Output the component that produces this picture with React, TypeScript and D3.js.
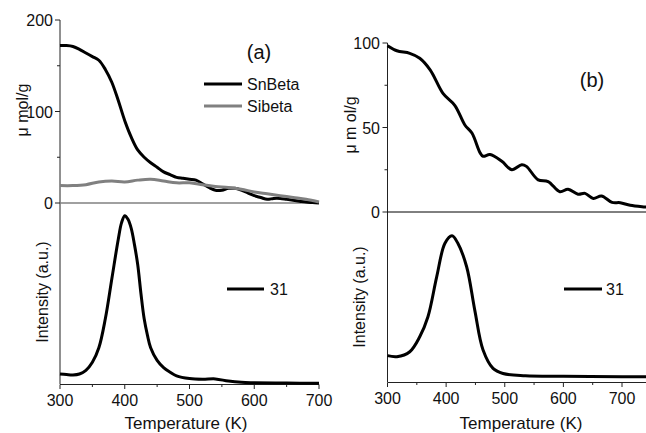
import React from "react";
import * as d3 from "d3";

// ---------- data ----------
const snBetaA: [number, number][] = [
  [300, 172], [310, 172], [320, 171], [330, 168], [340, 164], [350, 160], [360, 156],
  [370, 146], [380, 132], [390, 112], [400, 90], [410, 72], [420, 58], [430, 50],
  [440, 44], [450, 39], [460, 34], [470, 31], [480, 28], [490, 27], [500, 26],
  [510, 25], [520, 21], [530, 17], [540, 14], [550, 14], [560, 16], [570, 16],
  [580, 14], [590, 11], [600, 8], [610, 6], [620, 4], [630, 5], [640, 5], [650, 4],
  [660, 3], [670, 2], [680, 1], [690, 0.5], [700, 0],
];
const siBetaA: [number, number][] = [
  [300, 19], [320, 19], [340, 20], [360, 23], [380, 24], [400, 23], [420, 25],
  [440, 26], [460, 24], [480, 22], [500, 22], [520, 20], [540, 18], [560, 17],
  [580, 15], [600, 12], [620, 10], [640, 8], [660, 6], [680, 4], [700, 1],
];
const intensityA: [number, number][] = [
  [300, 5.5], [310, 5.2], [320, 5], [330, 5.5], [340, 7.5], [350, 12], [360, 20],
  [370, 36], [380, 58], [390, 80], [395, 89], [400, 93], [405, 91], [410, 86],
  [415, 77], [420, 66], [425, 50], [430, 36], [435, 27], [440, 20], [450, 13],
  [460, 9], [470, 6.5], [480, 4.5], [500, 3], [520, 2.6], [540, 2.8], [560, 1.6],
  [580, 0.9], [600, 0.7], [650, 0.5], [700, 0.4],
];
const curveB: [number, number][] = [
  [300, 98.4], [316, 95.4], [338, 93.9], [355, 91], [373, 84], [395, 70], [415, 63],
  [432, 51.5], [444, 46.7], [458, 35], [463, 33], [475, 34], [495, 30], [512, 25],
  [529, 28], [537, 27], [557, 19], [574, 18], [594, 12], [608, 13.5], [625, 10.5],
  [637, 11], [651, 8], [665, 9.5], [683, 5.7], [697, 5.5], [714, 4], [739, 3], [745, 2.8],
];
const intensityB: [number, number][] = [
  [300, 15.5], [316, 14.9], [338, 17.8], [355, 26.6], [369, 38.4], [384, 62],
  [398, 81.6], [410, 86], [420, 81.6], [435, 67.8], [449, 42], [463, 18.8],
  [480, 8], [497, 5], [535, 3.7], [600, 3.4], [700, 3.1], [745, 3.1],
];

const xTicksMajor = [300, 400, 500, 600, 700];
const xTicksMinor = [350, 450, 550, 650];
const yTicksA = [0, 100, 200];
const yTicksAMinor = [50, 150];
const yTicksB = [0, 50, 100];
const yTicksBMinor = [25, 75];

const FONT = "Liberation Sans, Arial, sans-serif";

export default function App() {
  const W = 646, H = 433;
  // panel a
  const xA = d3.scaleLinear().domain([300, 700]).range([60, 319]);
  const yA = d3.scaleLinear().domain([0, 200]).range([203, 20]);
  const yLA = d3.scaleLinear().domain([0, 100]).range([384, 203]);
  // panel b
  const xB = d3.scaleLinear().domain([300, 700]).range([387.5, 622]);
  const yB = d3.scaleLinear().domain([0, 100]).range([212, 43]);
  const yLB = d3.scaleLinear().domain([0, 100]).range([382, 212]);

  const mk = (x: d3.ScaleLinear<number, number>, y: d3.ScaleLinear<number, number>) =>
    d3.line<[number, number]>().x((d) => x(d[0])).y((d) => y(d[1])).curve(d3.curveCatmullRom);

  const axisCol = "#222";
  const tickText = (x: number, y: number, t: string, anchor: string) => (
    <text x={x} y={y} fontSize={16} fontFamily={FONT} textAnchor={anchor} fill="#111">{t}</text>
  );

  return (
    <svg width={W} height={H} style={{ position: "absolute", left: 0, top: 0 }} fontFamily={FONT}>
      <rect width={W} height={H} fill="#fff" />
      {/* ---------- panel a ---------- */}
      <line x1={60} x2={60} y1={20} y2={384} stroke={axisCol} strokeWidth={1} />
      <line x1={60} x2={319} y1={384.5} y2={384.5} stroke={axisCol} strokeWidth={1} />
      <line x1={60} x2={319} y1={yA(0)} y2={yA(0)} stroke="#808080" strokeWidth={1.5} />
      {yTicksA.map((t) => (
        <g key={"ya" + t}>
          <line x1={55} x2={60} y1={yA(t)} y2={yA(t)} stroke={axisCol} />
          {tickText(53, yA(t) + 6, String(t), "end")}
        </g>
      ))}
      {yTicksAMinor.map((t) => (
        <line key={"yam" + t} x1={57} x2={60} y1={yA(t)} y2={yA(t)} stroke={axisCol} />
      ))}
      {xTicksMajor.map((t) => (
        <g key={"xa" + t}>
          <line x1={xA(t)} x2={xA(t)} y1={384.5} y2={389} stroke={axisCol} />
          {tickText(xA(t), 406, String(t), "middle")}
        </g>
      ))}
      {xTicksMinor.map((t) => (
        <line key={"xam" + t} x1={xA(t)} x2={xA(t)} y1={384.5} y2={387} stroke={axisCol} />
      ))}
      <path d={mk(xA, yA)(snBetaA) || ""} fill="none" stroke="#000" strokeWidth={3} />
      <path d={mk(xA, yA)(siBetaA) || ""} fill="none" stroke="#808080" strokeWidth={3} />
      <path d={mk(xA, yLA)(intensityA) || ""} fill="none" stroke="#000" strokeWidth={3} />
      <text x={259} y={59} fontSize={20} textAnchor="middle" fill="#111">(a)</text>
      <line x1={204} x2={242} y1={84} y2={84} stroke="#000" strokeWidth={3} />
      <text x={247} y={90} fontSize={16} fill="#111">SnBeta</text>
      <line x1={204} x2={242} y1={106} y2={106} stroke="#808080" strokeWidth={3} />
      <text x={247} y={112} fontSize={16} fill="#111">Sibeta</text>
      <line x1={227} x2={264} y1={289} y2={289} stroke="#000" strokeWidth={3} />
      <text x={270} y={295} fontSize={16} fill="#111">31</text>
      <text transform="translate(22,110) rotate(-90)" fontSize={16} textAnchor="middle" dominantBaseline="central" fill="#111">μ mol/g</text>
      <text transform="translate(42.5,292) rotate(-90)" fontSize={16} textAnchor="middle" dominantBaseline="central" fill="#111">Intensity (a.u.)</text>
      <text x={186} y={429} fontSize={17} textAnchor="middle" fill="#111">Temperature (K)</text>

      {/* ---------- panel b ---------- */}
      <line x1={387.5} x2={387.5} y1={43} y2={382} stroke={axisCol} strokeWidth={1} />
      <line x1={387.5} x2={646} y1={382.5} y2={382.5} stroke={axisCol} strokeWidth={1} />
      <line x1={387.5} x2={646} y1={yB(0)} y2={yB(0)} stroke="#000" strokeWidth={1} />
      {yTicksB.map((t) => (
        <g key={"yb" + t}>
          <line x1={382.5} x2={387.5} y1={yB(t)} y2={yB(t)} stroke={axisCol} />
          {tickText(380, yB(t) + 6, String(t), "end")}
        </g>
      ))}
      {yTicksBMinor.map((t) => (
        <line key={"ybm" + t} x1={384.5} x2={387.5} y1={yB(t)} y2={yB(t)} stroke={axisCol} />
      ))}
      {xTicksMajor.map((t) => (
        <g key={"xb" + t}>
          <line x1={xB(t)} x2={xB(t)} y1={382.5} y2={387} stroke={axisCol} />
          {tickText(xB(t), 404, String(t), "middle")}
        </g>
      ))}
      {xTicksMinor.map((t) => (
        <line key={"xbm" + t} x1={xB(t)} x2={xB(t)} y1={382.5} y2={385} stroke={axisCol} />
      ))}
      <path d={mk(xB, yB)(curveB) || ""} fill="none" stroke="#000" strokeWidth={3} />
      <path d={mk(xB, yLB)(intensityB) || ""} fill="none" stroke="#000" strokeWidth={3} />
      <text x={592} y={87} fontSize={20} textAnchor="middle" fill="#111">(b)</text>
      <line x1={564} x2={602} y1={289} y2={289} stroke="#000" strokeWidth={3} />
      <text x={606} y={295} fontSize={16} fill="#111">31</text>
      <text transform="translate(350,125) rotate(-90)" fontSize={16} textAnchor="middle" dominantBaseline="central" fill="#111">μ m ol/g</text>
      <text transform="translate(359.5,297) rotate(-90)" fontSize={16} textAnchor="middle" dominantBaseline="central" fill="#111">Intensity (a.u.)</text>
      <text x={521} y={429} fontSize={17} textAnchor="middle" fill="#111">Temperature (K)</text>
    </svg>
  );
}
